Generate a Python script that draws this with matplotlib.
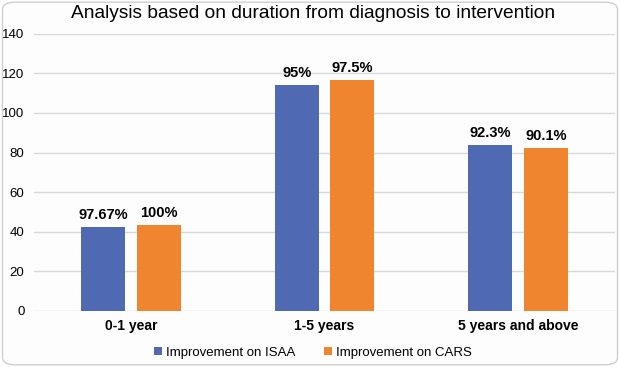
import numpy as np
import matplotlib
matplotlib.use('Agg')
import matplotlib.pyplot as plt
from matplotlib.patches import FancyBboxPatch

categories = ['0-1 year', '1-5 years', '5 years and above']
isaa = [42.5, 114.2, 83.9]
cars = [43.5, 116.8, 82.3]
isaa_labels = ['97.67%', '95%', '92.3%']
cars_labels = ['100%', '97.5%', '90.1%']
yticks = [0, 20, 40, 60, 80, 100, 120, 140]

plt.rcParams['font.family'] = ['Liberation Sans', 'DejaVu Sans']

fig = plt.figure(figsize=(6.2, 3.67), dpi=100)
fig.patch.set_facecolor('white')
fig.patches.append(FancyBboxPatch((0.004, 0.006), 0.992, 0.988,
                                  boxstyle='round,pad=0,rounding_size=0.02',
                                  transform=fig.transFigure, facecolor='#fdfdfd',
                                  edgecolor='#cfcfcf', linewidth=1.0, zorder=-10))

ax = fig.add_axes([0.055, 0.153, 0.937, 0.755])
ax.set_facecolor('none')

x = np.arange(len(categories))
w = 0.227
off = 0.144
b1 = ax.bar(x - off, isaa, w, color='#4f69b3', label='Improvement on ISAA', zorder=3)
b2 = ax.bar(x + off, cars, w, color='#ef852f', label='Improvement on CARS', zorder=3)

for bars, labs in ((b1, isaa_labels), (b2, cars_labels)):
    for r, t in zip(bars, labs):
        ax.text(r.get_x() + r.get_width() / 2, r.get_height() + 2.5, t,
                ha='center', va='bottom', fontsize=10.5, fontweight='bold')

ax.set_xlim(-0.5, 2.5)
ax.set_ylim(0, 140)
ax.set_yticks(yticks)
ax.yaxis.grid(True, color='#d9d9d9', linewidth=1.0, zorder=0)
for s in ax.spines.values():
    s.set_visible(False)
ax.tick_params(axis='both', length=0, labelsize=9.5, colors='black')
ax.tick_params(axis='y', pad=7)
ax.set_xticks(x)
ax.set_xticklabels(categories, fontweight='bold', fontsize=10)
ax.tick_params(axis='x', pad=6)

fig.text(0.505, 0.962, 'Analysis based on duration from diagnosis to intervention',
         ha='center', va='center', fontsize=13.8)

fig.legend(loc='lower center', bbox_to_anchor=(0.505, -0.01), ncol=2,
           frameon=False, fontsize=9.5, handlelength=0.6, handleheight=0.6,
           handletextpad=0.3, columnspacing=2.2)

fig.savefig('out.png', dpi=100)
